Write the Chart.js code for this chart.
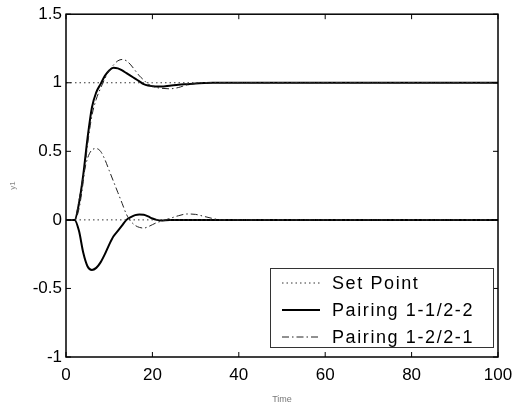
<!DOCTYPE html>
<html>
<head>
<meta charset="utf-8">
<script src="https://cdn.jsdelivr.net/npm/chart.js@4/dist/chart.umd.min.js"></script>
<style>
html,body{margin:0;padding:0;background:#fff;}
canvas{display:block;}
</style>
</head>
<body>
<canvas id="c" width="523" height="405"></canvas>
<script>
// ---- data ----
const timeValues = [0,1,2,3,4,5,6,7,8,9,10,11,12,13,14,15,16,17,18,19,20,21,22,24,26,28,30,32,34,36,40,50,60,70,80,90,100];
const setPointY1 = [1,1,1,1,1,1,1,1,1,1,1,1,1,1,1,1,1,1,1,1,1,1,1,1,1,1,1,1,1,1,1,1,1,1,1,1,1];
const setPointY2 = [0,0,0,0,0,0,0,0,0,0,0,0,0,0,0,0,0,0,0,0,0,0,0,0,0,0,0,0,0,0,0,0,0,0,0,0,0];
const pair11Y1 = [0,0,0,0.12,0.33,0.6,0.82,0.93,0.99,1.05,1.09,1.11,1.105,1.09,1.07,1.05,1.03,1.01,0.99,0.98,0.975,0.972,0.972,0.978,0.985,0.99,0.995,0.998,1,1,1,1,1,1,1,1,1];
const pair11Y2 = [0,0,0,-0.08,-0.24,-0.34,-0.365,-0.35,-0.31,-0.25,-0.18,-0.12,-0.08,-0.04,0,0.02,0.035,0.04,0.038,0.025,0.01,0,-0.005,0,0,0,0,0,0,0,0,0,0,0,0,0,0];
const pair12Y1 = [0,0,0,0.08,0.28,0.55,0.76,0.88,0.96,1.03,1.09,1.13,1.16,1.17,1.16,1.13,1.09,1.05,1.02,0.99,0.975,0.965,0.96,0.956,0.965,0.985,0.995,1,1,1,1,1,1,1,1,1,1];
const pair12Y2 = [0,0,0,0.14,0.32,0.45,0.51,0.52,0.5,0.44,0.36,0.28,0.2,0.12,0.04,-0.01,-0.04,-0.055,-0.06,-0.05,-0.035,-0.02,-0.01,0.01,0.03,0.043,0.04,0.025,0.01,0,0,0,0,0,0,0,0];
const xTicks = [0,20,40,60,80,100];
const yTicks = [-1,-0.5,0,0.5,1,1.5];
const yTickLabels = ['-1','-0.5','0','0.5','1','1.5'];
const labelSetPoint = 'Set Point';
const labelPair11 = 'Pairing 1-1/2-2';
const labelPair12 = 'Pairing 1-2/2-1';
const xTitle = 'Time';
const yTitle = 'y1';

const pts = arr => arr.map((v,i)=>({x:timeValues[i], y:v}));
const FONT = '"Liberation Sans", Arial, Helvetica, sans-serif';

const dotted = {borderColor:'#333', borderWidth:1, borderDash:[1.5,3]};
const solid = {borderColor:'#000', borderWidth:2, borderDash:[]};
const dashDot = {borderColor:'#222', borderWidth:1, borderDash:[7,3,1.5,3]};

const datasets = [
  Object.assign({label:labelSetPoint, data:pts(setPointY1)}, dotted),
  Object.assign({label:labelSetPoint, data:pts(setPointY2)}, dotted),
  Object.assign({label:labelPair12, data:pts(pair12Y1)}, dashDot),
  Object.assign({label:labelPair12, data:pts(pair12Y2)}, dashDot),
  Object.assign({label:labelPair11, data:pts(pair11Y1)}, solid),
  Object.assign({label:labelPair11, data:pts(pair11Y2)}, solid),
].map(d=>Object.assign(d,{pointRadius:0, fill:false, cubicInterpolationMode:'monotone'}));

const legendOrder = [labelSetPoint, labelPair11, labelPair12];

const framePlugin = {
  id:'frame',
  afterDatasetsDraw(chart){
    const {ctx, chartArea:a, scales} = chart;
    ctx.save();
    ctx.strokeStyle = '#000';
    ctx.lineWidth = 1.5;
    ctx.setLineDash([]);
    ctx.strokeRect(a.left, a.top, a.right-a.left, a.bottom-a.top);
    ctx.lineWidth = 1;
    const tl = 5;
    xTicks.forEach(v=>{
      const px = scales.x.getPixelForValue(v);
      ctx.beginPath();
      ctx.moveTo(px, a.bottom); ctx.lineTo(px, a.bottom-tl);
      ctx.moveTo(px, a.top); ctx.lineTo(px, a.top+tl);
      ctx.stroke();
    });
    yTicks.forEach(v=>{
      const py = scales.y.getPixelForValue(v);
      ctx.beginPath();
      ctx.moveTo(a.left, py); ctx.lineTo(a.left+tl, py);
      ctx.moveTo(a.right, py); ctx.lineTo(a.right-tl, py);
      ctx.stroke();
    });
    // legend box inside plot
    const bx = a.right - 228, by = a.bottom - 89, bw = 223, bh = 79;
    ctx.fillStyle = '#fff';
    ctx.fillRect(bx, by, bw, bh);
    ctx.strokeStyle = '#333';
    ctx.lineWidth = 1;
    ctx.strokeRect(bx+0.5, by+0.5, bw, bh);
    ctx.font = '18px ' + FONT;
    ctx.textBaseline = 'middle';
    ctx.fillStyle = '#000';
    try { ctx.letterSpacing = '1.6px'; } catch(e){}
    legendOrder.forEach((lab, i)=>{
      const ds = chart.data.datasets.find(d=>d.label===lab);
      const y = by + 15 + i*27;
      ctx.save();
      ctx.strokeStyle = ds.borderColor;
      ctx.lineWidth = ds.borderWidth;
      ctx.setLineDash(ds.borderDash);
      ctx.beginPath();
      ctx.moveTo(bx+12, y); ctx.lineTo(bx+50, y);
      ctx.stroke();
      ctx.restore();
      ctx.fillText(lab, bx+62, y+1);
    });
    ctx.restore();
  }
};

new Chart(document.getElementById('c'), {
  type:'line',
  data:{datasets},
  options:{
    responsive:false,
    animation:false,
    layout:{padding:{left:0, top:14, right:25, bottom:0}},
    plugins:{legend:{display:false}, tooltip:{enabled:false}},
    scales:{
      x:{
        type:'linear', min:0, max:100,
        afterBuildTicks(s){ s.ticks = xTicks.map(v=>({value:v})); },
        ticks:{color:'#000', font:{family:FONT, size:17}, padding:8, maxRotation:0},
        grid:{display:false, drawTicks:false},
        border:{display:false},
        title:{display:true, text:xTitle, color:'#777', font:{family:FONT, size:9}, padding:{top:6,bottom:0}},
        afterFit(s){ s.height = 48; }
      },
      y:{
        type:'linear', min:-1, max:1.5,
        afterBuildTicks(s){ s.ticks = yTicks.map(v=>({value:v})); },
        ticks:{color:'#000', font:{family:FONT, size:17}, padding:4,
          callback:(v)=>{ const i = yTicks.indexOf(v); return i>=0 ? yTickLabels[i] : ''; }},
        grid:{display:false, drawTicks:false},
        border:{display:false},
        title:{display:true, text:yTitle, color:'#888', font:{family:FONT, size:8}, padding:{top:8,bottom:0}},
        afterFit(s){ s.width = 66; }
      }
    }
  },
  plugins:[framePlugin]
});
</script>
</body>
</html>
